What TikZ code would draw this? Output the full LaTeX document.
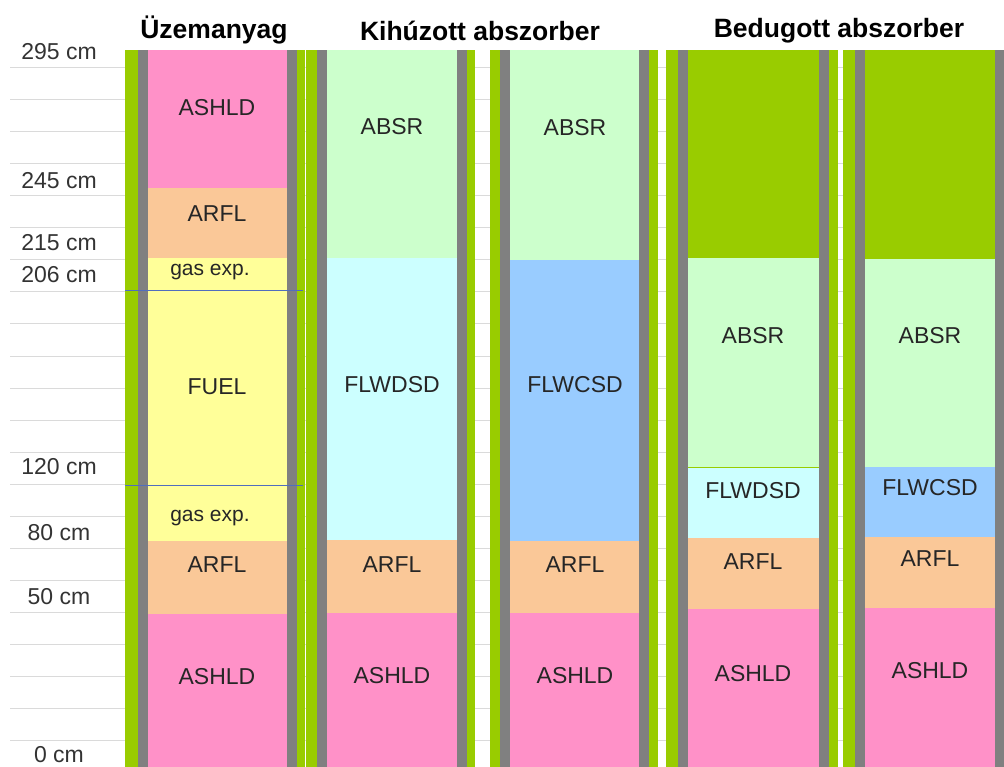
\documentclass[tikz,border=0pt]{standalone}
\usepackage{fontspec}
\setmainfont{Liberation Sans}
\usepackage{xcolor}
\usepackage{tikz}
\usetikzlibrary{positioning}
\definecolor{rodgreen}{RGB}{153, 204, 0}
\definecolor{linergray}{RGB}{128, 128, 128}
\definecolor{shldpink}{RGB}{255, 145, 200}
\definecolor{rflpeach}{RGB}{250, 200, 152}
\definecolor{fuelyellow}{RGB}{255, 255, 153}
\definecolor{absrgreen}{RGB}{204, 255, 204}
\definecolor{flwdcyan}{RGB}{204, 255, 255}
\definecolor{flwcblue}{RGB}{153, 204, 255}
\definecolor{cutblue}{RGB}{80, 110, 190}
\definecolor{gridgray}{RGB}{218, 218, 218}
\tikzset{
 matlabel/.style={
 text=black!85,
 inner sep=1pt,
 font=\fontsize{23}{26}\selectfont
 },
 gaslabel/.style={
 matlabel,
 font=\fontsize{21}{24}\selectfont
 },
 heightlabel/.style={
 text=black!80,
 inner sep=1pt,
 font=\fontsize{23}{26}\selectfont
 },
 header/.style={
 text=black,
 inner sep=1pt,
 font=\bfseries\fontsize{26.5}{29}\selectfont
 },
 gridline/.style={draw=gridgray, line width=1pt},
 cutline/.style={draw=cutblue, line width=0.8pt}
}

\begin{document}
\begin{tikzpicture}[x=1pt, y=-1pt]
 \useasboundingbox (0,0) rectangle (1004,767);

 % height grid
 \foreach \k in {0,...,21}
 \draw[gridline] (10,68+32*\k) -- (1004,68+32*\k);

 % rods: green cladding, gray liner
 \foreach \gl/\il/\ir/\gr in {125/148/287/305, 306/327/457/475, 490/510/639/658, 666/688/819/838, 843/865/995/1004} {
 \fill[rodgreen] (\gl,50) rectangle (\gr,767);
 \fill[linergray] (\il-10,50) rectangle (\il,767);
 \fill[linergray] (\ir,50) rectangle (\ir+10,767);
 }

 % material layers
 \foreach \xa/\xb/\ya/\yb/\col in {
 148/287/50/188/shldpink, 148/287/188/258/rflpeach, 148/287/258/541/fuelyellow,
 148/287/541/614/rflpeach, 148/287/614/767/shldpink,
 327/457/50/258/absrgreen, 327/457/258/540/flwdcyan, 327/457/540/613/rflpeach,
 327/457/613/767/shldpink,
 510/639/50/260/absrgreen, 510/639/260/541/flwcblue, 510/639/541/613/rflpeach,
 510/639/613/767/shldpink,
 688/819/258/467/absrgreen, 688/819/467/538/flwdcyan, 688/819/538/609/rflpeach,
 688/819/609/767/shldpink,
 865/995/259/467/absrgreen, 865/995/467/537/flwcblue, 865/995/537/608/rflpeach,
 865/995/608/767/shldpink}
 \fill[\col] (\xa,\ya) rectangle (\xb,\yb);
 \draw[rodgreen, line width=0.8pt] (688,467) -- (819,467);

 % fuel edges
 \draw[cutline] (125,290) -- (303,290);
 \draw[cutline] (125,485) -- (303,485);

 % headers
 \node[header] (uzem) at (214,30) {Üzemanyag};
 \node[header] (kihuz) at (480,31) {Kihúzott abszorber};
 \node[header] (bedug) at (839,31) {Bedugott abszorber};

 % heights
 \foreach \h/\y in {295/52, 245/181, 215/243, 206/275, 120/467, 80/533, 50/597, 0/755}
 \node[heightlabel] (h\h) at (59,\y) {\h{} cm};

 % fuel rod
 \node[matlabel] (u-shldtop) at (217,108) {ASHLD};
 \node[matlabel] (u-rfltop) at (217,214) {ARFL};
 \node[gaslabel] (u-gastop) at (210,272) {gas exp.};
 \node[matlabel] (u-fuel) at (217,387) {FUEL};
 \node[gaslabel] (u-gasbot) at (210,518) {gas exp.};
 \node[matlabel] (u-rflbot) at (217,565) {ARFL};
 \node[matlabel] (u-shldbot) at (217,677) {ASHLD};

 % withdrawn absorber
 \node[matlabel] (k1-absr) at (392,127) {ABSR};
 \node[matlabel] (k1-flw) at (392,385) {FLWDSD};
 \node[matlabel] (k1-rfl) at (392,565) {ARFL};
 \node[matlabel] (k1-shld) at (392,676) {ASHLD};
 \node[matlabel] (k2-absr) at (575,128) {ABSR};
 \node[matlabel] (k2-flw) at (575,385) {FLWCSD};
 \node[matlabel] (k2-rfl) at (575,565) {ARFL};
 \node[matlabel] (k2-shld) at (575,676) {ASHLD};

 % inserted absorber
 \node[matlabel] (b1-absr) at (753,336) {ABSR};
 \node[matlabel] (b1-flw) at (753,491) {FLWDSD};
 \node[matlabel] (b1-rfl) at (753,562) {ARFL};
 \node[matlabel] (b1-shld) at (753,674) {ASHLD};
 \node[matlabel] (b2-absr) at (930,336) {ABSR};
 \node[matlabel] (b2-flw) at (930,488) {FLWCSD};
 \node[matlabel] (b2-rfl) at (930,559) {ARFL};
 \node[matlabel] (b2-shld) at (930,671) {ASHLD};
\end{tikzpicture}
\end{document}
